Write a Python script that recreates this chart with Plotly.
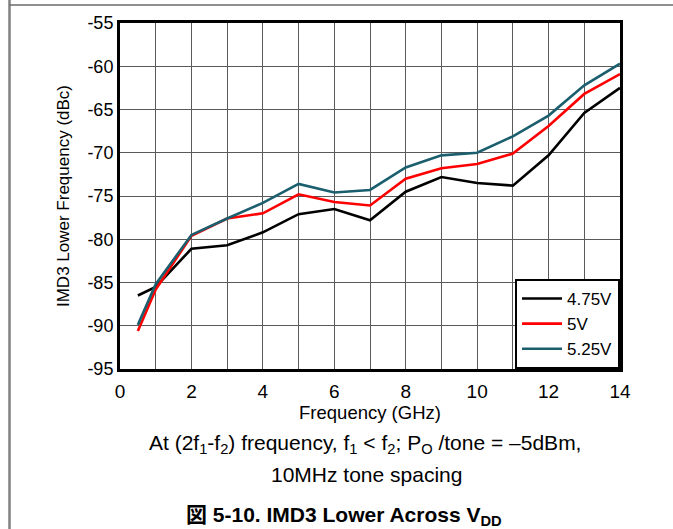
import plotly.graph_objects as go

# Frequency sweep points (GHz)
freq_ghz = [0.5, 1, 2, 3, 4, 5, 6, 7, 8, 9, 10, 11, 12, 13, 14]

# IMD3 lower (dBc) for each supply voltage
imd3_475v = [-86.5, -85.5, -81.1, -80.7, -79.2, -77.1, -76.5, -77.8, -74.5, -72.8, -73.5, -73.8, -70.3, -65.4, -62.5]
imd3_500v = [-90.6, -85.8, -79.6, -77.6, -77.0, -74.8, -75.7, -76.1, -73.0, -71.8, -71.3, -70.1, -66.9, -63.2, -60.9]
imd3_525v = [-89.9, -85.2, -79.5, -77.6, -75.8, -73.6, -74.6, -74.3, -71.7, -70.3, -70.0, -68.1, -65.7, -62.2, -59.7]

series_names = ["4.75V", "5V", "5.25V"]
series_colors = ["#000000", "#ff0000", "#1b5e6e"]

x_ticks = [0, 2, 4, 6, 8, 10, 12, 14]
y_ticks = [-95, -90, -85, -80, -75, -70, -65, -60, -55]
y_tick_text = [str(v) for v in y_ticks]  # plain hyphen minus

FONT = "Arial, 'Liberation Sans', 'Noto Sans CJK JP', sans-serif"
GRID = "#5a5a5a"

fig = go.Figure()
for name, color, vals in zip(series_names, series_colors, [imd3_475v, imd3_500v, imd3_525v]):
    fig.add_trace(go.Scatter(
        x=freq_ghz, y=vals, name=name, mode="lines",
        line=dict(color=color, width=2.6),
    ))

fig.update_layout(
    width=673, height=529,
    margin=dict(l=120, r=53, t=23, b=160),
    paper_bgcolor="white", plot_bgcolor="white",
    font=dict(family=FONT, size=17, color="#000"),
    showlegend=True,
    legend=dict(
        x=1, y=0, xanchor="right", yanchor="bottom",
        bgcolor="white", bordercolor="#000", borderwidth=2,
        font=dict(size=17), tracegroupgap=0, itemwidth=40,
    ),
    xaxis=dict(
        range=[0, 14], tickvals=x_ticks,
        ticks="outside", ticklen=3, tickcolor="rgba(0,0,0,0)",
        tickfont=dict(size=19),
        showgrid=True, gridcolor=GRID, gridwidth=1,
        showline=True, linecolor="#000", linewidth=3, mirror=True,
        zeroline=False,
        title=dict(text="Frequency (GHz)", font=dict(size=18.5), standoff=0),
        minor=dict(dtick=1, showgrid=True, gridcolor=GRID, gridwidth=1),
    ),
    yaxis=dict(
        range=[-95, -55], tickvals=y_ticks, ticktext=y_tick_text, ticks="",
        tickfont=dict(size=18),
        showgrid=True, gridcolor=GRID, gridwidth=1,
        showline=True, linecolor="#000", linewidth=3, mirror=True,
        zeroline=False,
        title=dict(text="IMD3 Lower Frequency (dBc)", font=dict(size=17), standoff=14),
    ),
)

# Page frame lines
fig.add_shape(type="line", xref="paper", yref="paper",
              x0=(9.5 - 120) / 500, x1=(9.5 - 120) / 500,
              y0=(369 - 0) / 346, y1=(369 - 529) / 346,
              line=dict(color="#808080", width=2.5))
fig.add_shape(type="line", xref="paper", yref="paper",
              x0=(9.5 - 120) / 500, x1=(673 - 120) / 500,
              y0=(369 - 5) / 346, y1=(369 - 5) / 346,
              line=dict(color="#6a6a6a", width=1.5))

# Caption and figure title
fig.add_annotation(
    text="At (2f<sub>1</sub>-f<sub>2</sub>) frequency, f<sub>1</sub> &lt; f<sub>2</sub>; P<sub>O</sub> /tone = \u20135dBm,",
    xref="paper", yref="paper", x=(365 - 120) / 500, y=(369 - 444) / 346,
    xanchor="center", yanchor="middle", showarrow=False, font=dict(size=21),
)
fig.add_annotation(
    text="10MHz tone spacing",
    xref="paper", yref="paper", x=(366 - 120) / 500, y=(369 - 475) / 346,
    xanchor="center", yanchor="middle", showarrow=False, font=dict(size=21),
)
fig.add_annotation(
    text="<b>\u56f3 5-10. IMD3 Lower Across V<sub>DD</sub></b>",
    xref="paper", yref="paper", x=(344 - 120) / 500, y=(369 - 516) / 346,
    xanchor="center", yanchor="middle", showarrow=False, font=dict(size=21),
)

fig.write_html("out.html")
